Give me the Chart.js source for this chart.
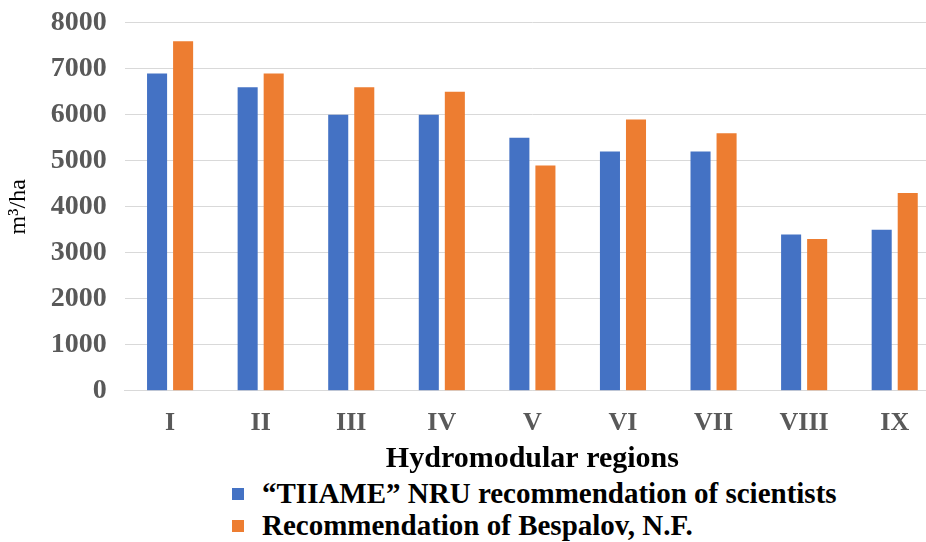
<!DOCTYPE html>
<html>
<head>
<meta charset="utf-8">
<script src="https://cdn.jsdelivr.net/npm/chart.js@4.4.0/dist/chart.umd.min.js"></script>
<style>
  html, body { margin: 0; padding: 0; background: #fff; overflow: hidden; }
  #wrap { position: absolute; left: 0; top: -12px; width: 950px; height: 489px; }
  #legend { position: absolute; left: 232px; top: 477px; font-family: "Liberation Serif", "Times New Roman", serif; font-weight: bold; font-size: 29px; color: #000; }
  #legend div { height: 32px; line-height: 32px; white-space: nowrap; }
  #legend span { display: inline-block; width: 12px; height: 12px; margin-right: 18px; vertical-align: middle; position: relative; top: -2px; }
</style>
</head>
<body>
<div id="wrap"><canvas id="chart"></canvas></div>
<div id="legend"></div>
<script>
  const regions = ['I', 'II', 'III', 'IV', 'V', 'VI', 'VII', 'VIII', 'IX'];
  const tiiame = [6900, 6600, 6000, 6000, 5500, 5200, 5200, 3400, 3500];
  const bespalov = [7600, 6900, 6600, 6500, 4900, 5900, 5600, 3300, 4300];
  const seriesNames = ['\u201CTIIAME\u201D NRU recommendation of scientists', 'Recommendation of Bespalov, N.F.'];
  const colors = ['#4472C4', '#ED7D31'];

  const serif = '"Liberation Serif", "Times New Roman", serif';

  const chart = new Chart(document.getElementById('chart'), {
    type: 'bar',
    data: {
      labels: regions,
      datasets: [
        { label: seriesNames[0], data: tiiame, backgroundColor: colors[0] },
        { label: seriesNames[1], data: bespalov, backgroundColor: colors[1] }
      ]
    },
    options: {
      responsive: true,
      maintainAspectRatio: false,
      animation: false,
      categoryPercentage: 0.575,
      barPercentage: 0.77,
      layout: { padding: { top: 0, left: 4, right: 10, bottom: 0 } },
      plugins: {
        legend: { display: false },
        tooltip: { enabled: false }
      },
      scales: {
        x: {
          grid: { display: false, drawTicks: false },
          border: { color: '#d9d9d9', width: 1 },
          ticks: { color: '#595959', font: { family: serif, size: 26, weight: 'bold' }, padding: 17,
                   maxRotation: 0, minRotation: 0, autoSkip: false },
          title: { display: true, text: 'Hydromodular regions', color: '#000', font: { family: serif, size: 30, weight: 'bold' }, padding: { top: -15, bottom: 0 } }
        },
        y: {
          min: 0, max: 8000,
          ticks: { stepSize: 1000, color: '#595959', font: { family: serif, size: 28, weight: 'bold' }, padding: 18,
                   callback: v => String(v) },
          grid: { color: '#d9d9d9', drawTicks: false },
          border: { display: false },
          title: { display: true, text: 'm\u00B3/ha', color: '#000', font: { family: serif, size: 24 }, padding: 0 }
        }
      }
    }
  });

  // legend in two left-aligned rows
  const legend = document.getElementById('legend');
  chart.data.datasets.forEach(ds => {
    const row = document.createElement('div');
    const sw = document.createElement('span');
    sw.style.background = ds.backgroundColor;
    row.appendChild(sw);
    row.appendChild(document.createTextNode(ds.label));
    legend.appendChild(row);
  });
</script>
</body>
</html>
